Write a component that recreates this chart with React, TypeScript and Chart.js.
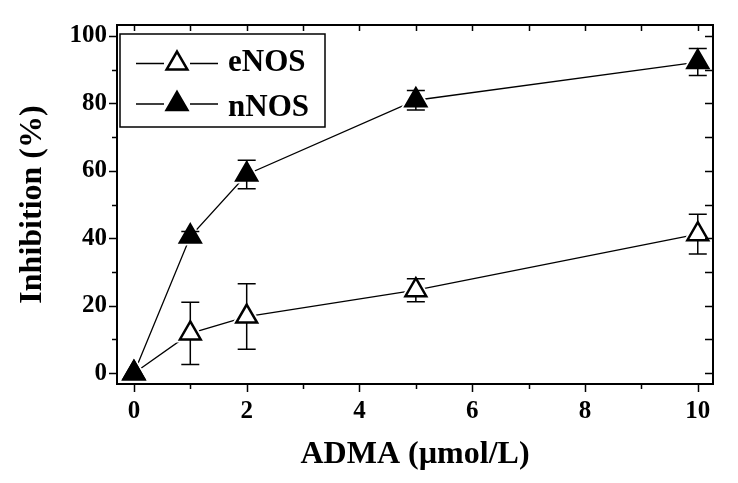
import React, { useEffect, useRef } from 'react';
import { Chart, registerables } from 'chart.js';

Chart.register(...registerables);

const X_VALUES = [0, 1, 2, 5, 10];
const ENOS = [0, 11.8, 16.8, 24.6, 41.2];
const ENOS_ERR = [0, 9.2, 9.7, 3.4, 5.9];
const NNOS = [0, 40.5, 58.9, 80.9, 92.2];
const NNOS_ERR = [0, 1.5, 4.2, 2.9, 4.0];
const X_TICKS = [0, 2, 4, 6, 8, 10];
const X_MINOR = [1, 3, 5, 7, 9];
const Y_TICKS = [0, 20, 40, 60, 80, 100];
const Y_MINOR = [10, 30, 50, 70, 90];
const SERIES_NAMES = ['eNOS', 'nNOS'];
const X_TITLE = 'ADMA (\u00b5mol/L)';
const Y_TITLE = 'Inhibition (%)';

const FONT = "'Liberation Serif', 'Times New Roman', serif";
const R = 12;

function triPath(ctx: CanvasRenderingContext2D, x: number, y: number, r: number) {
  ctx.beginPath();
  for (let i = 0; i < 3; i++) {
    const a = (i * 2 * Math.PI) / 3;
    const px = x + Math.sin(a) * r;
    const py = y - Math.cos(a) * r;
    if (i === 0) ctx.moveTo(px, py);
    else ctx.lineTo(px, py);
  }
  ctx.closePath();
}

const errorBarPlugin = {
  id: 'errorBars',
  beforeDatasetDraw(chart: any, args: any) {
    const ds = chart.data.datasets[args.index] as any;
    if (!ds.errors) return;
    const ctx = chart.ctx as CanvasRenderingContext2D;
    const xs = chart.scales.x;
    const ys = chart.scales.y;
    ctx.save();
    ctx.strokeStyle = '#000';
    ctx.lineWidth = 1.5;
    ds.data.forEach((p: any, i: number) => {
      const e = ds.errors[i];
      if (!e) return;
      const px = xs.getPixelForValue(p.x);
      const top = ys.getPixelForValue(p.y + e);
      const bot = ys.getPixelForValue(p.y - e);
      ctx.beginPath();
      ctx.moveTo(px, top);
      ctx.lineTo(px, bot);
      ctx.moveTo(px - 9, top);
      ctx.lineTo(px + 9, top);
      ctx.moveTo(px - 9, bot);
      ctx.lineTo(px + 9, bot);
      ctx.stroke();
    });
    ctx.restore();
  },
};

const framePlugin = {
  id: 'frame',
  afterDraw(chart: any) {
    const ctx = chart.ctx as CanvasRenderingContext2D;
    const { left, right, top, bottom } = chart.chartArea;
    const xs = chart.scales.x;
    const ys = chart.scales.y;
    ctx.save();
    ctx.strokeStyle = '#000';
    ctx.lineWidth = 1.5;
    ctx.beginPath();
    X_TICKS.forEach((v) => {
      const px = Math.round(xs.getPixelForValue(v)) + 0.5;
      ctx.moveTo(px, bottom);
      ctx.lineTo(px, bottom + 8);
      ctx.moveTo(px, top);
      ctx.lineTo(px, top + 6);
    });
    X_MINOR.forEach((v) => {
      const px = Math.round(xs.getPixelForValue(v)) + 0.5;
      ctx.moveTo(px, bottom);
      ctx.lineTo(px, bottom + 5);
      ctx.moveTo(px, top);
      ctx.lineTo(px, top + 6);
    });
    Y_TICKS.forEach((v) => {
      const py = Math.round(ys.getPixelForValue(v)) + 0.5;
      ctx.moveTo(left, py);
      ctx.lineTo(left - 8, py);
      ctx.moveTo(right, py);
      ctx.lineTo(right - 8, py);
    });
    Y_MINOR.forEach((v) => {
      const py = Math.round(ys.getPixelForValue(v)) + 0.5;
      ctx.moveTo(left, py);
      ctx.lineTo(left - 5, py);
      ctx.moveTo(right, py);
      ctx.lineTo(right - 8, py);
    });
    ctx.stroke();
    ctx.lineWidth = 2;
    ctx.strokeRect(left, top, right - left, bottom - top);

    const bx = left + 3;
    const by = top + 9;
    const bw = 205;
    const bh = 93;
    ctx.fillStyle = '#fff';
    ctx.fillRect(bx, by, bw, bh);
    ctx.lineWidth = 1.5;
    ctx.strokeRect(bx, by, bw, bh);
    const rows = [
      { y: by + 29.5, base: by + 37, fill: '#fff', label: SERIES_NAMES[0] },
      { y: by + 70, base: by + 82, fill: '#000', label: SERIES_NAMES[1] },
    ];
    rows.forEach((r) => {
      ctx.lineWidth = 1.3;
      ctx.beginPath();
      ctx.moveTo(bx + 16, r.y);
      ctx.lineTo(bx + 44, r.y);
      ctx.moveTo(bx + 70, r.y);
      ctx.lineTo(bx + 98, r.y);
      ctx.stroke();
      triPath(ctx, bx + 57, r.y, R);
      ctx.fillStyle = r.fill;
      ctx.fill();
      ctx.lineWidth = 2.5;
      ctx.lineJoin = 'miter';
      ctx.stroke();
      ctx.fillStyle = '#000';
      ctx.font = `bold 31px ${FONT}`;
      ctx.textBaseline = 'alphabetic';
      ctx.textAlign = 'left';
      ctx.fillText(r.label, bx + 108, r.base);
    });
    ctx.restore();
  },
};

export default function App() {
  const ref = useRef<HTMLCanvasElement | null>(null);

  useEffect(() => {
    document.body.style.margin = '0';
    const canvas = ref.current;
    if (!canvas) return;
    const pts = (ys: number[]) => X_VALUES.map((x, i) => ({ x, y: ys[i] }));
    const lineDs = (ys: number[]) => ({
      data: pts(ys),
      showLine: true,
      borderColor: '#000',
      borderWidth: 1.3,
      pointRadius: 0,
      order: 2,
      clip: false as any,
    });
    const haloDs = (ys: number[]) => ({
      data: pts(ys),
      showLine: false,
      pointStyle: 'triangle',
      pointRadius: 18,
      pointBackgroundColor: '#fff',
      pointBorderWidth: 0,
      pointBorderColor: 'rgba(0,0,0,0)',
      order: 1,
      clip: false as any,
    });
    const pointDs = (ys: number[], errs: number[], fill: string, order: number) => ({
      data: pts(ys),
      errors: errs,
      showLine: false,
      pointStyle: 'triangle',
      pointRadius: R,
      pointBackgroundColor: fill,
      pointBorderColor: '#000',
      pointBorderWidth: 2.5,
      order,
      clip: false as any,
    });

    const chart = new Chart(canvas, {
      type: 'scatter',
      data: {
        datasets: [
          { label: SERIES_NAMES[0], ...lineDs(ENOS) },
          { label: SERIES_NAMES[1], ...lineDs(NNOS) },
          { label: SERIES_NAMES[0] + ' halo', ...haloDs(ENOS) },
          { label: SERIES_NAMES[1] + ' halo', ...haloDs(NNOS) },
          { label: SERIES_NAMES[0] + ' pts', ...pointDs(ENOS, ENOS_ERR, '#fff', 0.5) },
          { label: SERIES_NAMES[1] + ' pts', ...pointDs(NNOS, NNOS_ERR, '#000', 0) },
        ] as any,
      },
      options: {
        animation: false,
        responsive: false,
        events: [],
        layout: { padding: { top: 22, right: 25, left: 0, bottom: 0 } },
        plugins: {
          legend: { display: false },
          tooltip: { enabled: false },
        },
        scales: {
          x: {
            type: 'linear',
            min: -0.3,
            max: 10.27,
            grid: { display: false, drawTicks: false, tickLength: 0 },
            border: { display: false },
            afterBuildTicks: (s: any) => {
              s.ticks = X_TICKS.map((v) => ({ value: v }));
            },
            afterFit: (s: any) => {
              s.height = 99;
            },
            ticks: {
              color: '#000',
              padding: 13,
              maxRotation: 0,
              font: { family: FONT, size: 25, weight: 'bold' },
            },
            title: {
              display: true,
              text: X_TITLE,
              color: '#000',
              padding: { top: 0, bottom: 9 },
              font: { family: FONT, size: 32, weight: 'bold' },
            },
          },
          y: {
            type: 'linear',
            min: -3.2,
            max: 103.2,
            grid: { display: false, drawTicks: false, tickLength: 0 },
            border: { display: false },
            afterBuildTicks: (s: any) => {
              s.ticks = Y_TICKS.map((v) => ({ value: v }));
            },
            afterFit: (s: any) => {
              s.width = 117;
            },
            ticks: {
              color: '#000',
              padding: 10,
              font: { family: FONT, size: 25, weight: 'bold' },
            },
            title: {
              display: true,
              text: Y_TITLE,
              color: '#000',
              padding: { top: 14, bottom: 0 },
              font: { family: FONT, size: 32, weight: 'bold' },
            },
          },
        },
      } as any,
      plugins: [errorBarPlugin, framePlugin],
    });
    return () => chart.destroy();
  }, []);

  return (
    <div style={{ width: 738, height: 483, background: '#fff' }}>
      <canvas ref={ref} width={738} height={483} style={{ display: 'block' }} />
    </div>
  );
}
